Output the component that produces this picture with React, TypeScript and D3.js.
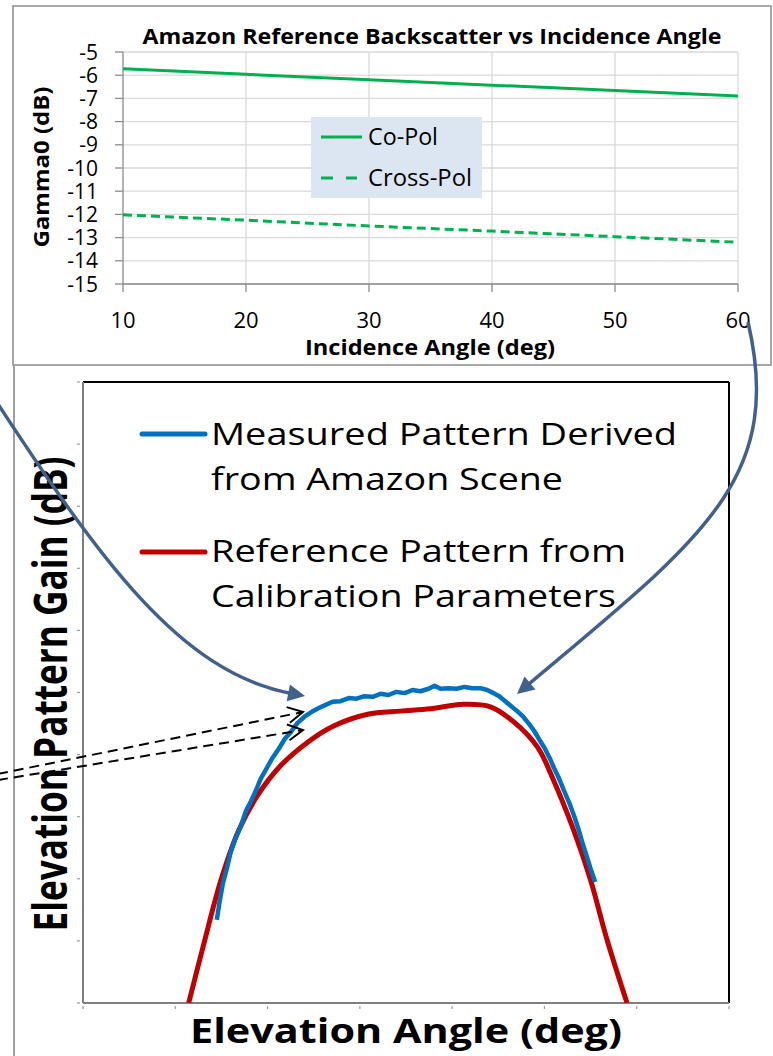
import React from 'react';
import * as d3 from 'd3';

// Backscatter reference (top panel)
const incidenceAngles = [10, 20, 30, 40, 50, 60];
const coPolGamma0 = [-5.72, -5.96, -6.2, -6.43, -6.66, -6.9];
const crossPolGamma0 = [-12.02, -12.25, -12.5, -12.72, -12.96, -13.2];
const gammaTicks = [-5, -6, -7, -8, -9, -10, -11, -12, -13, -14, -15];
const incidenceTicks = [10, 20, 30, 40, 50, 60];

// Elevation pattern (bottom panel)
const referenceAngle = [2.29, 2.6, 2.99, 3.38, 3.79, 4.28, 4.87, 5.43, 6.17, 6.88, 7.53, 8.24, 8.83, 9.33, 9.85, 10.19, 10.63, 11.0, 11.36, 11.79];
const referenceGain = [-10.0, -9.1, -8.02, -7.21, -6.65, -6.18, -5.8, -5.54, -5.35, -5.3, -5.26, -5.19, -5.23, -5.47, -5.88, -6.4, -7.21, -8.02, -8.99, -10.0];

const measuredAngle = [
  2.9, 2.96, 3.03, 3.12, 3.2, 3.31, 3.42, 3.53, 3.64, 3.74, 3.85, 3.98, 4.11, 4.24, 4.37, 4.5,
  4.65, 4.8, 4.96, 5.11, 5.26, 5.41, 5.58, 5.76, 5.93, 6.1, 6.28, 6.45, 6.62, 6.79, 6.97, 7.14,
  7.31, 7.49, 7.62, 7.75, 7.92, 8.1, 8.27, 8.44, 8.61, 8.76, 8.89, 9.02, 9.15, 9.28, 9.41, 9.54,
  9.67, 9.78, 9.89, 10.0, 10.11, 10.21, 10.32, 10.43, 10.54, 10.65, 10.75, 10.84, 10.93, 11.01, 11.1,
];
const measuredGain = [
  -8.66, -8.37, -8.08, -7.83, -7.57, -7.34, -7.15, -6.91, -6.75, -6.59, -6.39, -6.22, -6.05, -5.91, -5.75, -5.64,
  -5.49, -5.39, -5.31, -5.25, -5.2, -5.15, -5.14, -5.09, -5.1, -5.06, -5.07, -5.02, -5.04, -4.99, -5.01, -4.96,
  -4.98, -4.94, -4.89, -4.94, -4.93, -4.94, -4.91, -4.93, -4.93, -4.96, -5.01, -5.06, -5.14, -5.22, -5.3, -5.39,
  -5.51, -5.62, -5.76, -5.89, -6.05, -6.22, -6.39, -6.59, -6.78, -7.0, -7.23, -7.46, -7.67, -7.86, -8.05,
];
const elevationTicks = [0, 2, 4, 6, 8, 10, 12, 14];
const gainTicks = [0, -1, -2, -3, -4, -5, -6, -7, -8, -9, -10];

const FONT = '"Open Sans", "DejaVu Sans", sans-serif';
const ARROW = '#41618c';

type Pt = [number, number];

// Curved callout arrow: cubic Bezier ending in a filled head at `tip`.
function CurvedArrow({ p0, p1, p2, tip }: { p0: Pt; p1: Pt; p2: Pt; tip: Pt }) {
  const dx = tip[0] - p2[0];
  const dy = tip[1] - p2[1];
  const len = Math.hypot(dx, dy);
  const ux = dx / len;
  const uy = dy / len;
  const L = 17;
  const W = 8.5;
  const bx = tip[0] - ux * L;
  const by = tip[1] - uy * L;
  const path = d3.path();
  path.moveTo(p0[0], p0[1]);
  path.bezierCurveTo(p1[0], p1[1], p2[0], p2[1], bx + ux * 2, by + uy * 2);
  const head = `M${tip[0]},${tip[1]}L${bx - uy * W},${by + ux * W}L${bx + uy * W},${by - ux * W}Z`;
  return (
    <g>
      <path d={path.toString()} fill="none" stroke={ARROW} strokeWidth={3.5} />
      <path d={head} fill={ARROW} />
    </g>
  );
}

// Straight dashed pointer with an open chevron head.
function DashedPointer({ from, tip }: { from: Pt; tip: Pt }) {
  const dx = tip[0] - from[0];
  const dy = tip[1] - from[1];
  const len = Math.hypot(dx, dy);
  const ux = dx / len;
  const uy = dy / len;
  const L = 15;
  const W = 8;
  const bx = tip[0] - ux * L;
  const by = tip[1] - uy * L;
  return (
    <g stroke="#000" strokeWidth={2} fill="none">
      <line x1={from[0]} y1={from[1]} x2={tip[0] - ux * 2} y2={tip[1] - uy * 2} strokeDasharray="10,6" />
      <path d={`M${bx - uy * W},${by + ux * W}L${tip[0]},${tip[1]}L${bx + uy * W},${by - ux * W}`} />
    </g>
  );
}

export default function App() {
  // ---- top panel scales
  const tx = d3.scaleLinear().domain([10, 60]).range([123, 738]);
  const ty = d3.scaleLinear().domain([-15, -5]).range([284, 52]);
  const topLine = d3
    .line<number>()
    .x((_, i) => tx(incidenceAngles[i]))
    .y((v) => ty(v));

  // ---- bottom panel scales
  const bx = d3.scaleLinear().domain([0, 14]).range([83, 729]);
  const by = d3.scaleLinear().domain([-10, 0]).range([1003, 382]);
  const refLine = d3
    .line<number>()
    .x((_, i) => bx(referenceAngle[i]))
    .y((v) => by(v))
    .curve(d3.curveCatmullRom.alpha(0.5));
  const measLine = d3
    .line<number>()
    .x((_, i) => bx(measuredAngle[i]))
    .y((v) => by(v));

  return (
    <svg
      width={773}
      height={1056}
      viewBox="0 0 773 1056"
      style={{ position: 'absolute', left: 0, top: 0, background: '#fff' }}
      fontFamily={FONT}
    >
      <defs>
        <clipPath id="patternClip">
          <rect x={83} y={382} width={646} height={621} />
        </clipPath>
      </defs>

      {/* ===== Top panel: backscatter vs incidence angle ===== */}
      <rect x={13} y={6} width={758} height={359} fill="#fff" stroke="#8c8c8c" strokeWidth={1.5} />

      {gammaTicks.map((t) => (
        <line key={'gh' + t} x1={tx(10)} x2={tx(60)} y1={ty(t)} y2={ty(t)} stroke="#d9d9d9" strokeWidth={1.3} />
      ))}
      {incidenceTicks.slice(1).map((t) => (
        <line key={'gv' + t} x1={tx(t)} x2={tx(t)} y1={ty(-5)} y2={ty(-15)} stroke="#d9d9d9" strokeWidth={1.3} />
      ))}
      <line x1={tx(10)} x2={tx(10)} y1={ty(-5)} y2={ty(-15)} stroke="#8c8c8c" strokeWidth={1.3} />
      <line x1={tx(10)} x2={tx(60)} y1={ty(-15)} y2={ty(-15)} stroke="#8c8c8c" strokeWidth={1.3} />
      {gammaTicks.map((t) => (
        <line key={'lt' + t} x1={tx(10) - 8} x2={tx(10)} y1={ty(t)} y2={ty(t)} stroke="#8c8c8c" strokeWidth={1.3} />
      ))}
      {incidenceTicks.map((t) => (
        <line key={'bt' + t} x1={tx(t)} x2={tx(t)} y1={ty(-15)} y2={ty(-15) + 8} stroke="#8c8c8c" strokeWidth={1.3} />
      ))}
      {gammaTicks.map((t) => (
        <text key={'ly' + t} x={98} y={ty(t) + 7.5} textAnchor="end" fontSize={21} fill="#000">
          {t}
        </text>
      ))}
      {incidenceTicks.map((t) => (
        <text key={'lx' + t} x={tx(t)} y={328} textAnchor="middle" fontSize={22} fill="#000">
          {t}
        </text>
      ))}

      <path d={topLine(coPolGamma0) || ''} fill="none" stroke="#00b050" strokeWidth={3} />
      <path d={topLine(crossPolGamma0) || ''} fill="none" stroke="#00b050" strokeWidth={3} strokeDasharray="9,5" />

      <text x={432} y={44} textAnchor="middle" fontSize={22} fontWeight="bold" textLength={579} lengthAdjust="spacingAndGlyphs">
        Amazon Reference Backscatter vs Incidence Angle
      </text>
      <text x={430} y={355} textAnchor="middle" fontSize={22} fontWeight="bold" textLength={250} lengthAdjust="spacingAndGlyphs">
        Incidence Angle (deg)
      </text>
      <text
        transform="translate(49,167) rotate(-90)"
        textAnchor="middle"
        fontSize={22}
        fontWeight="bold"
        textLength={161}
        lengthAdjust="spacingAndGlyphs"
      >
        Gamma0 (dB)
      </text>

      {/* legend */}
      <rect x={311} y={117} width={171} height={81} fill="#dce6f2" />
      <line x1={321} x2={362} y1={137} y2={137} stroke="#00b050" strokeWidth={3} />
      <line x1={321} x2={333} y1={178} y2={178} stroke="#00b050" strokeWidth={3} />
      <line x1={346} x2={357} y1={178} y2={178} stroke="#00b050" strokeWidth={3} />
      <text x={368} y={145} fontSize={24} textLength={70} lengthAdjust="spacingAndGlyphs">
        Co-Pol
      </text>
      <text x={368} y={186} fontSize={24} textLength={104} lengthAdjust="spacingAndGlyphs">
        Cross-Pol
      </text>

      {/* ===== Bottom panel: elevation pattern ===== */}
      <line x1={14} x2={14} y1={365} y2={1056} stroke="#a0a0a0" strokeWidth={2} />

      {gainTicks.map((t) => (
        <line key={'bgt' + t} x1={77} x2={80} y1={by(t)} y2={by(t)} stroke="#9a9a9a" strokeWidth={1.2} />
      ))}
      {elevationTicks.map((t) => (
        <line key={'bet' + t} x1={bx(t)} x2={bx(t)} y1={1006} y2={1009} stroke="#9a9a9a" strokeWidth={1.2} />
      ))}
      <line x1={83} x2={729} y1={382} y2={382} stroke="#000" strokeWidth={2} />
      <line x1={729} x2={729} y1={382} y2={1003} stroke="#000" strokeWidth={2} />
      <line x1={83} x2={83} y1={382} y2={1003} stroke="#7f7f7f" strokeWidth={2} />
      <line x1={83} x2={729} y1={1003} y2={1003} stroke="#7f7f7f" strokeWidth={2} />

      <g clipPath="url(#patternClip)">
        <path d={refLine(referenceGain) || ''} fill="none" stroke="#c00000" strokeWidth={5} strokeLinejoin="round" />
        <path d={measLine(measuredGain) || ''} fill="none" stroke="#0070c0" strokeWidth={4.5} strokeLinejoin="round" />
      </g>

      {/* legend */}
      <line x1={142} x2={205} y1={434} y2={434} stroke="#0070c0" strokeWidth={5} strokeLinecap="round" />
      <line x1={142} x2={205} y1={552} y2={552} stroke="#c00000" strokeWidth={5} strokeLinecap="round" />
      <g fontSize={31} fill="#000">
        <text x={211} y={445} textLength={466} lengthAdjust="spacingAndGlyphs">Measured Pattern Derived</text>
        <text x={211} y={490} textLength={352} lengthAdjust="spacingAndGlyphs">from Amazon Scene</text>
        <text x={211} y={562} textLength={415} lengthAdjust="spacingAndGlyphs">Reference Pattern from</text>
        <text x={211} y={607} textLength={405} lengthAdjust="spacingAndGlyphs">Calibration Parameters</text>
      </g>

      <text x={406} y={1043} textAnchor="middle" fontSize={34} fontWeight="bold" textLength={432} lengthAdjust="spacingAndGlyphs">
        Elevation Angle (deg)
      </text>
      <text
        transform="translate(67,694) rotate(-90)"
        textAnchor="middle"
        fontSize={46}
        fontWeight="bold"
        textLength={475}
        lengthAdjust="spacingAndGlyphs"
      >
        Elevation Pattern Gain (dB)
      </text>

      {/* callouts */}
      <DashedPointer from={[-2, 774]} tip={[303, 712]} />
      <DashedPointer from={[-2, 780]} tip={[303, 730]} />
      <CurvedArrow p0={[-6, 398]} p1={[100, 560]} p2={[180, 672]} tip={[305, 696]} />
      <CurvedArrow p0={[748, 322]} p1={[785, 480]} p2={[700, 540]} tip={[517, 694]} />
    </svg>
  );
}
